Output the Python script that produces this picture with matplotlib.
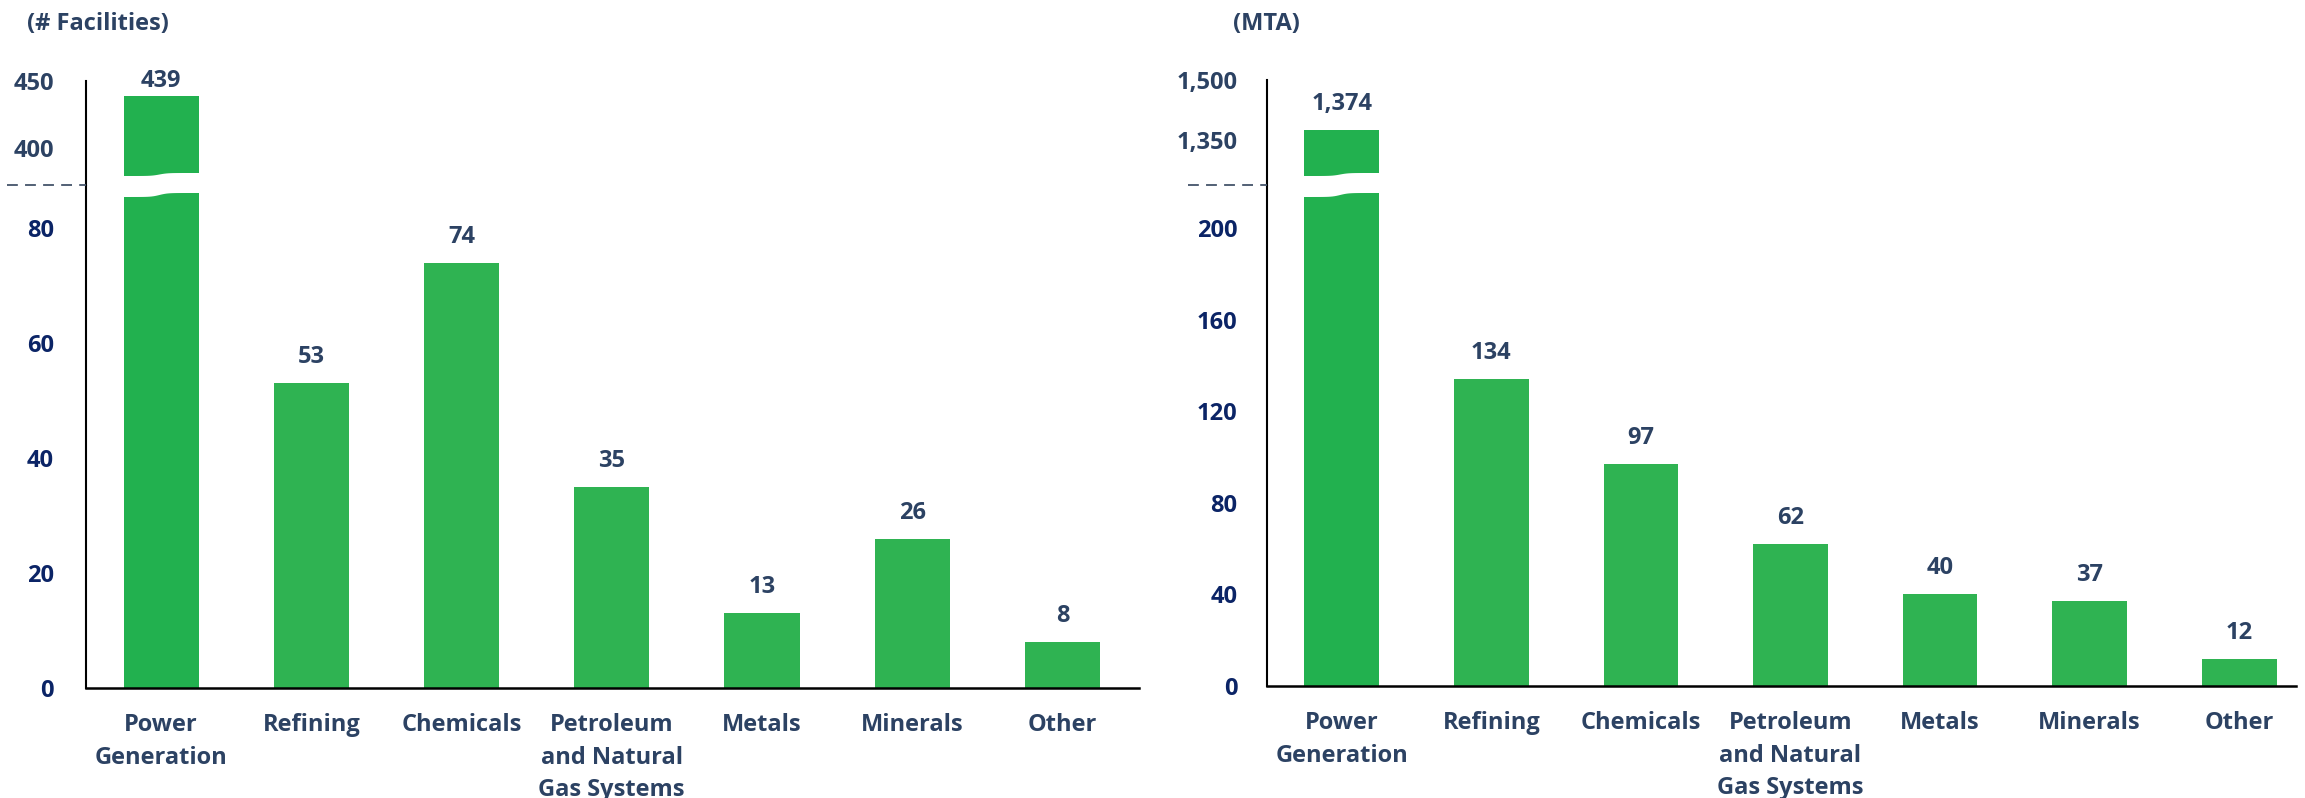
import numpy as np
import matplotlib.pyplot as plt
import matplotlib.transforms as mtransforms
from matplotlib.patches import Polygon
from matplotlib.lines import Line2D

plt.rcParams['font.family'] = ['Open Sans', 'DejaVu Sans']
plt.rcParams['font.weight'] = 'bold'

categories = ['Power\nGeneration', 'Refining', 'Chemicals',
              'Petroleum\nand Natural\nGas Systems', 'Metals', 'Minerals', 'Other']
facilities = [439, 53, 74, 35, 13, 26, 8]
emissions = [1374, 134, 97, 62, 40, 37, 12]

fac_low_ticks = [0, 20, 40, 60, 80]
fac_high_ticks = [400, 450]
mta_low_ticks = [0, 40, 80, 120, 160, 200]
mta_high_ticks = [1350, 1500]

BIG = '#22b14f'
GREEN = '#2fb352'
NAVY = '#0b2466'
SLATE = '#2c4263'
DASH = '#44546a'

W, H = 2305, 798
fig = plt.figure(figsize=(W / 100, H / 100), dpi=100)


def panel(left, right, top, brk, base, values, low_lim, high_lim,
          low_ticks, high_ticks, xmax, title, title_x, title_ha, tick_pad):
    ax_lo = fig.add_axes([left / W, 1 - base / H, (right - left) / W, (base - brk) / H])
    ax_hi = fig.add_axes([left / W, 1 - brk / H, (right - left) / W, (brk - top) / H],
                         sharex=ax_lo)
    x = np.arange(len(values))
    colors = [BIG if i == 0 else GREEN for i in x]
    for ax in (ax_lo, ax_hi):
        ax.bar(x, values, width=0.5, color=colors)
        ax.set_xlim(-0.5, xmax)
        for s in ('top', 'right'):
            ax.spines[s].set_visible(False)
        ax.spines['left'].set_linewidth(1.5)
        ax.spines['left'].set_color('black')
        ax.tick_params(axis='y', length=0, pad=tick_pad, labelsize=17)
    ax_lo.set_ylim(*low_lim)
    ax_hi.set_ylim(*high_lim)
    ax_hi.spines['bottom'].set_visible(False)
    ax_lo.spines['bottom'].set_linewidth(1.8)
    ax_lo.spines['bottom'].set_color('black')

    ax_lo.set_yticks(low_ticks, [f'{t:,}' for t in low_ticks], color=NAVY)
    ax_hi.set_yticks(high_ticks, [f'{t:,}' for t in high_ticks], color=SLATE)
    ax_hi.tick_params(axis='x', bottom=False, labelbottom=False)
    ax_lo.set_xticks(x, categories, color=SLATE, fontsize=17, linespacing=1.48)
    ax_lo.tick_params(axis='x', length=0, pad=18)

    # value labels
    for i, v in enumerate(values):
        ax = ax_lo if v <= low_lim[1] else ax_hi
        lim = ax.get_ylim()
        ppu = ax.bbox.height / (lim[1] - lim[0])
        off = min(26, (lim[1] - v) * ppu)
        ax.annotate(f'{v:,}', (i, v), xytext=(0, off * 0.72), textcoords='offset points',
                    ha='center', va='center', color=SLATE, fontsize=17,
                    annotation_clip=False)

    # break marker: dashed line left of axis
    fig.add_artist(Line2D([(left - 79) / W, left / W], [1 - brk / H, 1 - brk / H],
                          transform=fig.transFigure, color=DASH, lw=1.3,
                          linestyle=(0, (6, 4))))

    # white wavy gap across bars that cross the break
    trans = mtransforms.blended_transform_factory(ax_lo.transData, fig.transFigure)
    t = np.linspace(0, 1, 40)
    s = 0.5 * (1 + np.tanh((t - 0.48) * 10))
    for i, v in enumerate(values):
        if v > low_lim[1]:
            xs = i - 0.27 + 0.54 * t
            upper = brk - 9 - 3 * s
            lower = brk + 12 - 4 * s
            pts = np.column_stack([np.concatenate([xs, xs[::-1]]),
                                   np.concatenate([1 - upper / H, (1 - lower / H)[::-1]])])
            fig.add_artist(Polygon(pts, closed=True, transform=trans,
                                   facecolor='white', edgecolor='none', zorder=5))

    fig.text(title_x / W, 1 - 24 / H, title, ha=title_ha, va='center',
             color=SLATE, fontsize=17)


panel(86, 1139, 81, 185, 688, facilities, (0, 87.5), (372, 450),
      fac_low_ticks, fac_high_ticks, 6.51, '(# Facilities)', 27, 'left', 23)
panel(1267, 2296, 80, 185, 686, emissions, (0, 219), (1238, 1500),
      mta_low_ticks, mta_high_ticks, 6.38, '(MTA)', 1266, 'center', 21.5)

fig.savefig('out.png', dpi=100)
